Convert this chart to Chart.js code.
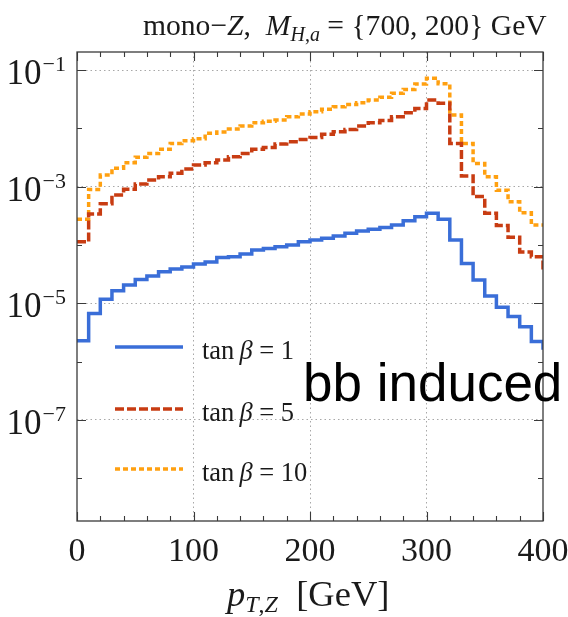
<!DOCTYPE html>
<html><head><meta charset="utf-8">
<script src="https://cdn.jsdelivr.net/npm/chart.js@4"></script>
<style>
html,body{margin:0;padding:0;background:#fff;}
#wrap{position:relative;width:568px;height:617px;overflow:hidden;background:#fff;}
#c{position:absolute;left:0;top:0;}
#ov{position:absolute;left:0;top:0;}
#ov text{font-family:"Liberation Serif","Times New Roman",serif;fill:#1a1a1a;}
</style></head>
<body><div id="wrap"><canvas id="c" width="568" height="617"></canvas>
<svg id="ov" width="568" height="617" xmlns="http://www.w3.org/2000/svg">
  <text x="143" y="35" font-size="29.6">mono−<tspan font-style="italic">Z</tspan>,&#160; <tspan font-style="italic">M</tspan><tspan font-style="italic" font-size="20" dy="6">H</tspan><tspan font-size="20">,</tspan><tspan font-style="italic" font-size="20">a</tspan><tspan dy="-6"> = {700, 200} GeV</tspan></text>
  <text x="227" y="606" font-size="36.5"><tspan font-style="italic">p</tspan><tspan font-style="italic" font-size="24" dy="6">T</tspan><tspan font-size="24">,</tspan><tspan font-style="italic" font-size="24">Z</tspan><tspan dy="-6">&#160;&#160;[GeV]</tspan></text>
  <line x1="115" y1="347" x2="183" y2="347" stroke="#3a6ed8" stroke-width="3.5"/>
  <line x1="115" y1="409" x2="183" y2="409" stroke="#c83c12" stroke-width="3.5" stroke-dasharray="9 3"/>
  <line x1="115" y1="469" x2="183" y2="469" stroke="#ffa010" stroke-width="3.5" stroke-dasharray="5 3"/>
  <text x="202" y="359" font-size="26.5">tan<tspan font-style="italic" dx="5">β</tspan> = 1</text>
  <text x="202" y="421" font-size="26.5">tan<tspan font-style="italic" dx="5">β</tspan> = 5</text>
  <text x="202" y="481" font-size="26.5">tan<tspan font-style="italic" dx="5">β</tspan> = 10</text>
  <text x="303" y="401" font-size="53" style="font-family:'Liberation Sans',Arial,sans-serif;fill:#000;">bb induced</text>
</svg>
</div>
<script>
// bin edges (GeV) of the pT,Z histogram; last point closes the final bin
const binEdges = [0,10,20,30,40,50,60,70,80,90,100,110,120,130,140,150,160,170,180,190,200,
  210,220,230,240,250,260,270,280,290,300,310,320,330,340,350,360,370,380,390,400];
const tanBeta1 = [2.27e-6,6.7e-6,1.17e-5,1.64e-5,2.05e-5,2.56e-5,2.93e-5,3.47e-5,3.86e-5,4.2e-5,
  4.7e-5,5.1e-5,6.1e-5,6.3e-5,7.0e-5,8.2e-5,8.7e-5,9.3e-5,1.0e-4,1.13e-4,
  1.21e-4,1.3e-4,1.42e-4,1.58e-4,1.73e-4,1.85e-4,2.0e-4,2.2e-4,2.6e-4,3.05e-4,
  3.5e-4,2.75e-4,1.21e-4,4.8e-5,2.5e-5,1.33e-5,8.5e-6,5.9e-6,3.97e-6,2.2e-6,1.6e-6];
const tanBeta5 = [1.13e-4,3.4e-4,5.1e-4,7.2e-4,9.0e-4,1.11e-3,1.3e-3,1.48e-3,1.7e-3,2.0e-3,
  2.35e-3,2.57e-3,2.86e-3,3.26e-3,3.7e-3,4.36e-3,4.7e-3,5.37e-3,5.9e-3,6.45e-3,
  7.0e-3,7.9e-3,8.75e-3,9.6e-3,1.1e-2,1.25e-2,1.37e-2,1.58e-2,1.85e-2,2.2e-2,
  3.05e-2,2.7e-2,5.5e-3,1.52e-3,6.8e-4,3.5e-4,2.15e-4,1.35e-4,7.6e-5,6.3e-5,3.7e-5];
const tanBeta10 = [2.75e-4,8.9e-4,1.58e-3,2.06e-3,2.57e-3,3.18e-3,3.7e-3,4.36e-3,5.5e-3,6.1e-3,
  6.6e-3,8.2e-3,8.7e-3,9.7e-3,1.1e-2,1.25e-2,1.33e-2,1.39e-2,1.58e-2,1.76e-2,
  1.93e-2,2.12e-2,2.34e-2,2.57e-2,2.75e-2,3.05e-2,3.4e-2,4.0e-2,4.66e-2,5.75e-2,
  7.2e-2,5.8e-2,1.7e-2,5.5e-3,2.5e-3,1.48e-3,8.7e-4,5.5e-4,3.55e-4,2.2e-4,2.2e-4];
const seriesLabels = ['tan β = 1','tan β = 5','tan β = 10'];
const xMajorTicks = [0,100,200,300,400];
const xMinorTicks = [0,20,40,60,80,100,120,140,160,180,200,220,240,260,280,300,320,340,360,380,400];
const yTickExps = [-1,-2,-3,-4,-5,-6,-7,-8];
const yLabelExps = [-1,-3,-5,-7];

const SERIF = '"Liberation Serif","Times New Roman",serif';

const framePlugin = {
  id: 'framePlugin',
  afterDraw(chart) {
    const {ctx, chartArea: a, scales: {x, y}} = chart;
    ctx.save();
    ctx.strokeStyle = '#3a3a3a';
    ctx.lineWidth = 1.3;
    ctx.strokeRect(a.left, a.top, a.right - a.left, a.bottom - a.top);
    ctx.lineWidth = 1.1;
    ctx.beginPath();
    xMinorTicks.forEach(v => {
      const px = Math.round(x.getPixelForValue(v)) + 0.5;
      const L = xMajorTicks.includes(v) ? 9 : 5;
      ctx.moveTo(px, a.bottom); ctx.lineTo(px, a.bottom - L);
      ctx.moveTo(px, a.top); ctx.lineTo(px, a.top + L);
    });
    yTickExps.forEach(e => {
      const py = Math.round(y.getPixelForValue(Math.pow(10, e))) + 0.5;
      const L = yLabelExps.includes(e) ? 9 : 5;
      ctx.moveTo(a.left, py); ctx.lineTo(a.left + L, py);
      ctx.moveTo(a.right, py); ctx.lineTo(a.right - L, py);
    });
    ctx.stroke();
    ctx.fillStyle = '#1a1a1a';
    ctx.textBaseline = 'alphabetic';
    ctx.textAlign = 'center';
    ctx.font = '34px ' + SERIF;
    xMajorTicks.forEach(v => ctx.fillText(String(v), x.getPixelForValue(v), 561));
    ctx.textAlign = 'right';
    yLabelExps.forEach(e => {
      const py = y.getPixelForValue(Math.pow(10, e));
      const s = '\u2212' + Math.abs(e);
      ctx.font = '22px ' + SERIF;
      const w = ctx.measureText(s).width;
      ctx.fillText(s, 66, py + 1);
      ctx.font = '35px ' + SERIF;
      ctx.fillText('10', 66 - w - 1, py + 14);
    });
    ctx.restore();
  }
};

function pts(vals) { return binEdges.map((e, i) => ({x: e, y: vals[i]})); }

new Chart(document.getElementById('c'), {
  type: 'line',
  data: {
    datasets: [
      {label: seriesLabels[0], data: pts(tanBeta1), borderColor: '#3a6ed8', borderWidth: 3.5, stepped: 'before', pointRadius: 0, fill: false},
      {label: seriesLabels[1], data: pts(tanBeta5), borderColor: '#c83c12', borderWidth: 3.5, borderDash: [9, 3], stepped: 'before', pointRadius: 0, fill: false},
      {label: seriesLabels[2], data: pts(tanBeta10), borderColor: '#ffa010', borderWidth: 3.5, borderDash: [5, 3], stepped: 'before', pointRadius: 0, fill: false}
    ]
  },
  options: {
    responsive: false,
    animation: false,
    devicePixelRatio: 1,
    layout: {padding: {left: 77, right: 25, top: 52, bottom: 96}},
    plugins: {legend: {display: false}, tooltip: {enabled: false}, title: {display: false}},
    scales: {
      x: {
        type: 'linear', min: 0, max: 400, bounds: 'data',
        afterBuildTicks: s => { s.ticks = xMajorTicks.filter(v => v > 0 && v < 400).map(v => ({value: v})); },
        afterFit: s => { s.height = 0; },
        ticks: {display: false},
        grid: {color: '#a8a8a8', lineWidth: 1, drawTicks: false},
        border: {display: false, dash: [1.5, 3]}
      },
      y: {
        type: 'logarithmic', min: 1.84e-9, max: 0.204, bounds: 'data',
        afterBuildTicks: s => { s.ticks = yLabelExps.map(e => ({value: Math.pow(10, e)})); },
        afterFit: s => { s.width = 0; },
        ticks: {display: false},
        grid: {color: '#a8a8a8', lineWidth: 1, drawTicks: false},
        border: {display: false, dash: [1.5, 3]}
      }
    }
  },
  plugins: [framePlugin]
});
</script>
</body></html>
